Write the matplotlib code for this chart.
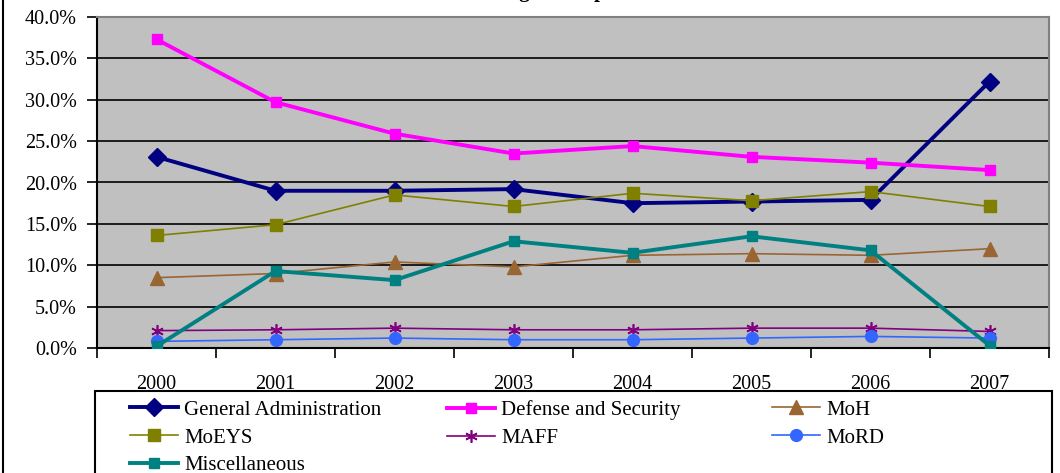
import matplotlib
matplotlib.use("Agg")
import matplotlib.pyplot as plt
from matplotlib.ticker import FixedLocator, FuncFormatter
from matplotlib.lines import Line2D
from matplotlib.patches import Rectangle

plt.rcParams['font.family'] = ['Liberation Serif', 'DejaVu Serif']

years = ["2000", "2001", "2002", "2003", "2004", "2005", "2006", "2007"]

general_admin = [23.1, 19.0, 19.0, 19.2, 17.5, 17.7, 17.9, 32.2]
defense_security = [37.3, 29.7, 25.9, 23.5, 24.4, 23.1, 22.4, 21.5]
moh = [8.5, 9.0, 10.4, 9.8, 11.2, 11.4, 11.2, 12.0]
moeys = [13.6, 14.9, 18.5, 17.1, 18.7, 17.8, 18.9, 17.1]
maff = [2.1, 2.2, 2.4, 2.2, 2.2, 2.4, 2.4, 2.0]
mord = [0.8, 1.0, 1.2, 1.0, 1.0, 1.2, 1.4, 1.2]
miscellaneous = [0.2, 9.3, 8.2, 12.9, 11.5, 13.5, 11.8, 0.3]

W, H = 1060, 473
fig = plt.figure(figsize=(W / 100, H / 100), dpi=100)
ax = fig.add_axes([97 / W, 1 - 348 / H, (1049 - 97) / W, (348 - 17) / H])
ax.set_facecolor('#C0C0C0')

x = list(range(len(years)))

series = [
    ("General Administration", general_admin, dict(color='#000080', lw=2.8, marker='D', ms=9)),
    ("Defense and Security", defense_security, dict(color='#FF00FF', lw=2.8, marker='s', ms=7)),
    ("MoH", moh, dict(color='#996633', lw=1.2, marker='^', ms=9.5)),
    ("MoEYS", moeys, dict(color='#808000', lw=1.2, marker='s', ms=8)),
    ("MAFF", maff, dict(color='#800080', lw=1.2, marker=(6, 2, 0), ms=9, mew=1.2)),
    ("MoRD", mord, dict(color='#3366FF', lw=1.2, marker='o', ms=8.5)),
    ("Miscellaneous", miscellaneous, dict(color='#008080', lw=2.8, marker='s', ms=7)),
]

handles = {}
for name, vals, st in series:
    h, = ax.plot(x, [v / 100 for v in vals], label=name, zorder=3, **st)
    handles[name] = h

ax.set_xlim(-0.5, len(years) - 0.5)
ax.set_ylim(0, 0.40)
ax.yaxis.set_major_locator(FixedLocator([i * 0.05 for i in range(9)]))
ax.yaxis.set_major_formatter(FuncFormatter(lambda v, p: f"{v * 100:.1f}%"))
ax.grid(axis='y', color='black', lw=1.2, zorder=1)
ax.set_axisbelow(True)

ax.set_xticks(x)
ax.set_xticklabels(years)
ax.set_xticks([i - 0.5 for i in range(len(years) + 1)], minor=True)
ax.tick_params(axis='x', which='major', length=0, pad=19.5, labelsize=14.5)
ax.tick_params(axis='x', which='minor', length=7, width=1.2, direction='out')
ax.tick_params(axis='y', length=7, width=1.2, direction='out', labelsize=14.5, pad=7.5)

for side in ['top', 'right']:
    ax.spines[side].set_color('#808080')
    ax.spines[side].set_linewidth(1.5)
for side in ['left', 'bottom']:
    ax.spines[side].set_color('black')
    ax.spines[side].set_linewidth(1.5)

# Title, running off the top edge so only descenders remain
fig.text(573 / W, 1.0 + 3 / H, "Budget Composition", ha='center', va='baseline',
         fontsize=15, fontweight='bold')

# Outer chart border on the left
fig.add_artist(Line2D([3 / W, 3 / W], [0, 1], transform=fig.transFigure,
                      color='black', lw=1.5))

# Legend frame
fig.add_artist(Rectangle((95 / W, -0.05), (1052 - 95) / W, 0.05 + 1 - 391 / H,
                         transform=fig.transFigure, fill=False, ec='black', lw=1.5))

columns = [
    (130, ["General Administration", "MoEYS", "Miscellaneous"]),
    (447, ["Defense and Security", "MAFF"]),
    (772, ["MoH", "MoRD"]),
]
for x0, names in columns:
    fig.legend([handles[n] for n in names], names, loc='upper left',
               bbox_to_anchor=(x0 / W, 1 - 400 / H), frameon=False,
               fontsize=15, handlelength=2.3, handletextpad=0.3,
               labelspacing=0.4, borderpad=0, borderaxespad=0)

fig.savefig("out.png", dpi=100)
